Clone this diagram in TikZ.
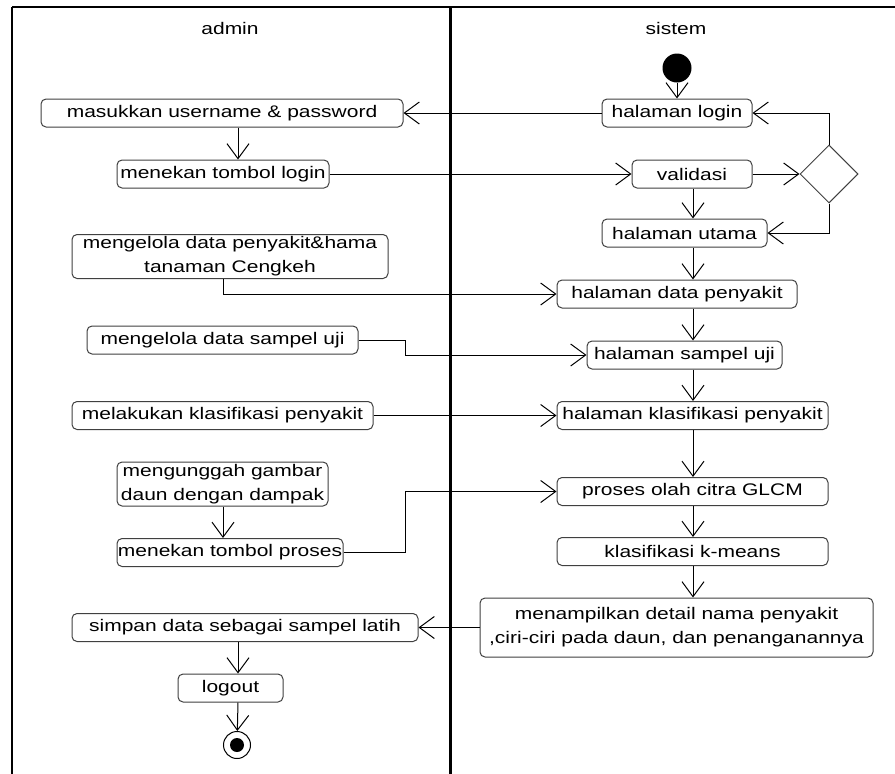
\documentclass[tikz,border=0pt]{standalone}
\usepackage{fontspec}
\setmainfont{Liberation Sans}[FakeStretch=1.25]
\usetikzlibrary{arrows.meta,shapes.geometric}

\begin{document}
\begin{tikzpicture}[x=1pt, y=-1pt, line width=1pt,
	every node/.style={font=\fontsize{16.8pt}{24pt}\selectfont},
	act/.style={draw=black!75, rounded corners=5pt, minimum height=28pt, inner sep=0pt, align=center, fill=white},
	flow/.style={-{Straight Barb[length=15pt, width=22pt]}}]
	\useasboundingbox (0,0) rectangle (895,774);
	\draw[line width=2pt] (12,7) -- (895,7);
	\draw[line width=1.5pt] (12,7) -- (12,774);
	\draw[line width=3pt] (450,7) -- (450,774);
	\node (lane1) at (230,28) {admin};
	\node (lane2) at (676,28) {sistem};
	\coordinate (acol) at (238,0);
	\coordinate (kcol) at (223,0);
	\coordinate (scol) at (693,0);
	\coordinate (jog) at (405,0);
	\node[act, minimum width=362pt] (masuk) at (222,113) {masukkan username \& password};
	\node[act, minimum width=212pt] (login2) at (223,174) {menekan tombol login};
	\node[act, minimum width=316pt, minimum height=44pt] (kelola) at (230,256.5) {mengelola data penyakit\&hama\\tanaman Cengkeh};
	\node[act, minimum width=271pt] (sampel) at (222.5,340) {mengelola data sampel uji};
	\node[act, minimum width=301pt] (klasif) at (222.5,415.5) {melakukan klasifikasi penyakit};
	\node[act, minimum width=211pt, minimum height=44pt] (unggah) at (222.5,484) {mengunggah gambar\\daun dengan dampak};
	\node[act, minimum width=226pt] (proses) at (230,552.5) {menekan tombol proses};
	\node[act, minimum width=346pt] (simpan) at (245,627.5) {simpan data sebagai sampel latih};
	\node[act, minimum width=105pt] (logout) at (230.5,688) {logout};
	\node[circle, draw, minimum size=27pt, inner sep=0pt] (endc) at (237,745) {};
	\fill (endc) circle (7pt);
	\node[circle, fill, minimum size=29pt, inner sep=0pt] (start) at (677,68) {};
	\node[act, minimum width=150pt] (hlogin) at (677,113) {halaman login};
	\node[act, minimum width=120pt] (valid) at (692,174) {validasi};
	\node[diamond, draw=black!75, minimum size=58pt, inner sep=0pt] (dec) at (829,174) {};
	\node[act, minimum width=165pt] (utama) at (684.5,233) {halaman utama};
	\node[act, minimum width=240pt] (datap) at (677,294) {halaman data penyakit};
	\node[act, minimum width=195pt] (sampu) at (684.5,355) {halaman sampel uji};
	\node[act, minimum width=271pt] (hklas) at (692.5,415.5) {halaman klasifikasi penyakit};
	\node[act, minimum width=271pt] (glcm) at (692.5,491.5) {proses olah citra GLCM};
	\node[act, minimum width=271pt] (kmeans) at (692.5,551.5) {klasifikasi k-means};
	\node[act, minimum width=393pt, minimum height=59pt] (tampil) at (676.5,627.5) {menampilkan detail nama penyakit\\,ciri-ciri pada daun, dan penanganannya};
	\draw[flow] (start) -- (hlogin);
	\draw[flow] (hlogin) -- (masuk);
	\draw[flow] (masuk.south -| acol) -- (login2.north -| acol);
	\draw[flow] (login2) -- (valid);
	\draw[flow] (valid) -- (dec);
	\draw[flow] (dec.north) |- (hlogin.east);
	\draw[flow] (dec.south) |- (utama.east);
	\draw[flow] (valid.south -| scol) -- (utama.north -| scol);
	\draw[flow] (utama.south -| scol) -- (datap.north -| scol);
	\draw[flow] (kelola.south -| kcol) |- (datap.west);
	\draw[flow] (datap.south -| scol) -- (sampu.north -| scol);
	\draw[flow] (sampel.east) -| (jog |- sampu.west) -- (sampu.west);
	\draw[flow] (sampu.south -| scol) -- (hklas.north -| scol);
	\draw[flow] (klasif) -- (hklas);
	\draw[flow] (unggah.south -| kcol) -- (proses.north -| kcol);
	\draw[flow] (proses.east) -| (jog |- glcm.west) -- (glcm.west);
	\draw[flow] (hklas.south -| scol) -- (glcm.north -| scol);
	\draw[flow] (glcm.south -| scol) -- (kmeans.north -| scol);
	\draw[flow] (kmeans.south -| scol) -- (tampil.north -| scol);
	\draw[flow] (tampil) -- (simpan);
	\draw[flow] (simpan.south -| acol) -- (logout.north -| acol);
	\draw[flow] (logout.south -| acol) -- (endc);
\end{tikzpicture}
\end{document}
